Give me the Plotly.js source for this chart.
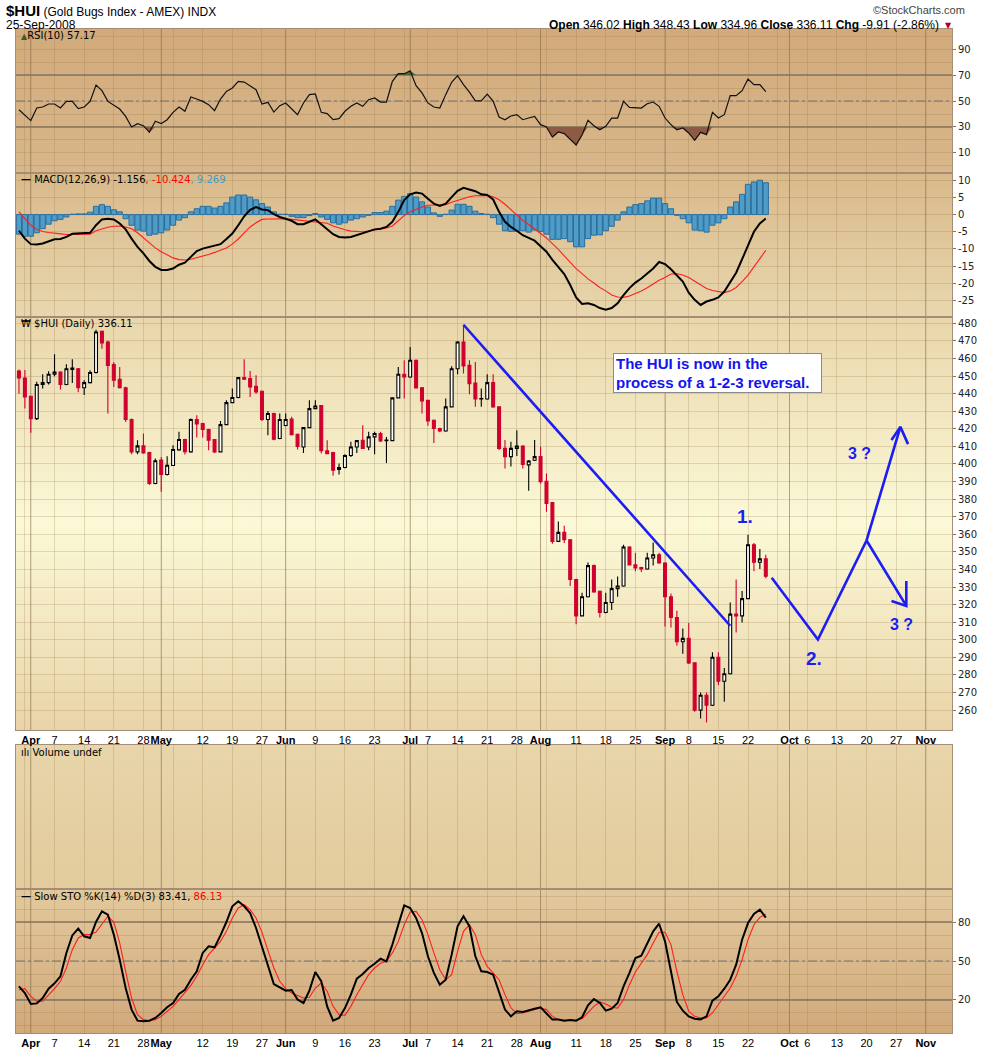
<!DOCTYPE html>
<html><head><meta charset="utf-8">
<script src="https://cdn.plot.ly/plotly-3.0.1.min.js"></script>
<style>body{margin:0;background:#fff}#chart{width:990px;height:1051px}</style>
</head><body><div id="chart"></div>
<script>
// ---------------- DATA ----------------
const dates = ['2008-03-28','2008-03-31',
'2008-04-01','2008-04-02','2008-04-03','2008-04-04','2008-04-07','2008-04-08','2008-04-09','2008-04-10','2008-04-11','2008-04-14','2008-04-15','2008-04-16','2008-04-17','2008-04-18','2008-04-21','2008-04-22','2008-04-23','2008-04-24','2008-04-25','2008-04-28','2008-04-29','2008-04-30',
'2008-05-01','2008-05-02','2008-05-05','2008-05-06','2008-05-07','2008-05-08','2008-05-09','2008-05-12','2008-05-13','2008-05-14','2008-05-15','2008-05-16','2008-05-19','2008-05-20','2008-05-21','2008-05-22','2008-05-23','2008-05-27','2008-05-28','2008-05-29','2008-05-30',
'2008-06-02','2008-06-03','2008-06-04','2008-06-05','2008-06-06','2008-06-09','2008-06-10','2008-06-11','2008-06-12','2008-06-13','2008-06-16','2008-06-17','2008-06-18','2008-06-19','2008-06-20','2008-06-23','2008-06-24','2008-06-25','2008-06-26','2008-06-27','2008-06-30',
'2008-07-01','2008-07-02','2008-07-03','2008-07-07','2008-07-08','2008-07-09','2008-07-10','2008-07-11','2008-07-14','2008-07-15','2008-07-16','2008-07-17','2008-07-18','2008-07-21','2008-07-22','2008-07-23','2008-07-24','2008-07-25','2008-07-28','2008-07-29','2008-07-30','2008-07-31',
'2008-08-01','2008-08-04','2008-08-05','2008-08-06','2008-08-07','2008-08-08','2008-08-11','2008-08-12','2008-08-13','2008-08-14','2008-08-15','2008-08-18','2008-08-19','2008-08-20','2008-08-21','2008-08-22','2008-08-25','2008-08-26','2008-08-27','2008-08-28','2008-08-29',
'2008-09-02','2008-09-03','2008-09-04','2008-09-05','2008-09-08','2008-09-09','2008-09-10','2008-09-11','2008-09-12','2008-09-15','2008-09-16','2008-09-17','2008-09-18','2008-09-19','2008-09-22','2008-09-23','2008-09-24','2008-09-25'];

const open = [452.9,448.9,438.5,425.8,445.2,446.3,451.0,452.3,445.2,453.8,454.2,443.4,446.3,452.0,475.5,469.4,456.5,448.2,443.4,425.3,406.9,410.3,406.5,388.9,402.2,394.0,399.1,408.0,413.9,406.9,425.3,423.0,419.6,413.9,406.9,422.4,434.9,437.8,449.1,448.6,444.2,441.4,425.3,428.7,414.5,421.9,425.5,416.9,409.7,420.7,431.5,433.2,407.5,406.5,396.9,398.0,404.8,409.7,413.5,409.7,415.4,417.3,413.3,413.3,437.6,451.0,449.5,459.0,443.4,436.2,424.9,420.2,418.8,432.5,454.2,469.4,456.1,446.1,437.0,437.0,446.3,432.5,408.9,404.2,408.9,410.2,399.5,402.1,404.2,390.2,378.0,356.0,361.1,356.9,334.3,313.6,324.5,342.2,327.6,315.5,321.2,329.1,330.6,352.8,342.6,341.1,340.3,346.5,348.4,343.7,324.5,312.7,298.9,300.8,286.9,260.0,268.5,262.8,290.1,276.4,280.7,314.6,313.6,323.4,354.1,344.1,346.02];
const high = [453.7,453.5,438.8,446.8,451.0,452.7,462.4,452.8,456.7,459.5,454.6,447.6,453.3,476.4,475.9,470.3,458.0,455.2,443.9,425.8,413.5,417.3,407.0,403.1,404.0,404.4,410.6,418.3,414.3,425.8,427.7,423.4,420.0,414.2,424.5,436.2,442.9,449.5,459.5,452.9,450.5,441.8,430.2,429.1,428.7,428.7,426.8,417.3,420.9,436.2,436.2,433.6,413.5,407.0,400.3,405.5,412.6,413.5,422.0,418.3,418.3,418.3,415.4,437.6,455.2,459.0,466.5,459.4,443.8,436.6,425.3,420.6,437.2,455.6,469.8,479.2,459.0,458.0,442.9,451.0,451.0,432.9,413.6,412.6,419.2,410.6,402.2,413.6,409.8,394.6,378.4,367.3,364.8,357.3,334.7,326.8,344.0,342.8,328.0,326.8,334.3,336.0,354.1,353.2,349.5,341.5,349.5,355.3,349.5,344.1,326.4,316.5,306.5,309.5,287.3,270.0,270.0,292.9,292.9,283.9,321.2,334.3,327.8,359.8,355.0,351.6,348.43];
const low = [440.0,431.5,417.7,425.0,442.9,445.2,449.9,442.3,444.8,446.0,440.8,439.3,445.8,451.5,465.6,428.7,443.8,442.9,423.9,405.6,405.6,405.8,388.0,388.5,384.2,393.5,398.8,407.5,405.4,406.4,415.0,415.0,407.8,406.3,406.5,422.0,434.5,437.4,447.8,438.1,440.0,424.5,416.4,413.5,414.0,421.5,416.2,408.2,406.3,420.3,431.1,405.9,405.5,393.3,394.0,397.6,404.0,406.3,408.5,407.8,405.6,412.5,400.6,413.0,437.2,437.2,449.0,443.0,428.7,421.7,412.0,418.0,418.4,432.1,451.0,451.4,439.7,432.5,432.5,436.6,432.0,407.9,397.5,398.5,404.5,397.5,384.8,401.7,388.9,372.9,354.7,355.6,355.0,330.6,308.9,313.2,324.1,326.8,312.7,315.1,317.0,324.5,330.2,342.2,339.0,338.6,339.9,342.2,343.3,307.6,307.0,296.6,292.0,286.3,259.1,255.3,253.0,262.4,274.1,264.7,280.3,304.2,309.9,323.0,339.0,340.3,334.96];
const close = [448.9,438.1,425.8,445.2,446.3,451.0,452.3,445.2,454.2,454.6,443.4,446.3,452.0,475.1,468.8,456.1,447.6,443.4,425.3,406.9,410.3,406.3,388.9,401.8,394.0,399.3,408.2,413.9,407.0,425.3,422.8,419.6,413.5,406.9,422.4,434.9,437.8,449.1,448.2,443.8,441.0,425.3,428.7,414.1,425.3,425.3,416.6,410.0,420.7,431.5,433.0,407.5,405.9,396.5,398.0,404.8,409.7,413.3,408.8,415.4,417.3,413.1,413.6,437.6,451.0,449.5,459.0,443.3,435.9,424.5,420.2,418.8,432.5,454.2,469.4,455.8,445.7,437.0,437.2,446.3,432.5,408.9,404.2,408.9,410.2,399.8,401.7,404.2,389.9,377.6,356.0,361.1,356.9,334.3,313.6,324.5,342.2,327.2,315.5,321.2,329.1,330.6,352.8,342.6,340.9,340.3,346.5,348.4,343.7,324.5,312.7,298.9,300.8,286.9,260.0,268.5,262.8,290.1,276.4,280.7,314.6,313.6,323.4,354.1,344.1,346.02,336.11];

const rsi = [43.3,38.7,34.9,44.6,45.4,47.7,47.7,44.6,49.7,49.7,44.1,45.4,49.7,
62.3,58.0,49.7,46.4,43.8,38.2,30.0,32.6,31.0,25.9,
34.4,32.6,35.6,41.3,45.4,42.1,53.1,51.5,49.7,47.2,
42.6,51.5,57.4,60.0,65.1,64.6,61.8,58.7,47.7,49.0,
41.5,46.4,48.5,43.8,39.5,48.5,54.9,55.4,41.3,40.3,
35.6,36.4,42.1,45.9,48.5,45.9,51.0,52.3,49.2,49.2,
65.1,71.0,71.0,73.3,61.8,56.2,48.5,45.4,44.6,54.9,64.4,
69.5,62.6,56.8,50.1,50.1,55.3,50.0,
37.7,35.6,38.5,39.5,35.6,36.9,38.2,31.8,30.0,22.3,26.2,24.9,
20.3,16.2,23.8,35.1,31.0,27.9,30.5,36.9,36.9,49.7,
45.1,44.6,44.6,47.9,49.2,45.9,36.9,31.8,27.9,29.2,
25.4,19.7,25.9,24.1,41.3,36.9,39.5,54.1,54.1,57.9,
66.9,62.6,62.6,57.17];

const macd = [-4.7,-7.0,-8.6,-8.7,-8.4,-7.9,-7.2,-7.1,-6.5,-5.6,-5.5,-5.6,-5.3,
-3.1,-1.4,-1.2,-1.4,-2.6,-4.3,-7.0,-9.4,-11.3,-13.5,
-15.2,-16.1,-16.1,-15.7,-14.6,-14.0,-12.3,-10.6,-9.9,-9.4,
-8.9,-8.6,-7.1,-5.5,-3.1,-0.5,1.4,2.2,1.5,1.3,
0.1,-0.7,-1.2,-1.8,-2.8,-2.8,-2.1,-1.4,-2.8,-4.3,
-5.7,-6.5,-6.7,-6.5,-6.0,-5.5,-5.0,-4.3,-4.1,-3.6,
-2.1,0.8,4.2,5.9,6.4,6.1,4.6,3.2,2.5,3.2,5.1,
6.9,7.8,7.4,6.8,5.9,5.7,4.4,
0.8,-2.1,-3.6,-4.7,-6.0,-6.8,-7.6,-9.2,-10.8,-13.2,-15.4,-17.3,
-20.5,-24.1,-26.0,-25.8,-26.3,-27.2,-27.7,-27.2,-25.8,-23.4,
-21.4,-19.8,-18.6,-17.1,-15.7,-13.8,-14.4,-15.9,-17.6,-19.5,
-22.7,-24.8,-26.3,-25.3,-24.8,-24.1,-22.4,-19.8,-16.9,-13.0,
-8.9,-5.0,-2.6,-1.156];

const macdSignal = [0.8,-1.2,-3.1,-4.3,-4.9,-5.2,-5.5,-5.6,-5.8,-5.8,-5.8,-5.8,-5.7,
-4.7,-4.1,-3.7,-3.4,-3.3,-3.6,-4.1,-5.3,-6.7,-8.2,
-9.7,-10.8,-11.8,-12.6,-13.1,-13.2,-13.0,-12.6,-12.1,-11.6,
-11.0,-10.3,-9.7,-8.6,-7.1,-5.3,-3.6,-2.4,-1.4,-1.3,
-1.2,-1.2,-1.2,-1.4,-1.6,-1.8,-1.9,-2.0,-2.2,-2.5,
-3.3,-3.9,-4.4,-4.8,-5.0,-5.0,-4.8,-4.4,-4.2,-3.9,
-3.3,-1.8,-0.3,0.8,1.6,2.2,2.7,2.7,2.7,2.9,3.6,
4.2,4.8,5.2,5.5,5.6,5.6,5.2,
4.3,3.0,1.4,-0.3,-1.7,-2.9,-4.1,-5.5,-6.8,-8.4,-10.1,-12.0,
-13.9,-15.7,-17.2,-18.7,-19.9,-21.2,-22.2,-23.4,-24.0,-24.1,
-23.7,-23.0,-22.2,-21.3,-20.2,-19.1,-18.3,-17.3,-17.2,-17.6,
-18.3,-19.3,-20.5,-21.5,-22.1,-22.5,-22.7,-22.2,-21.2,-19.5,
-17.6,-15.2,-12.8,-10.424];

const macdHist = [-5.7,-6.3,-6.3,-5.3,-4.1,-2.8,-1.8,-1.4,-0.7,0.1,0.2,0.2,0.7,
2.4,2.9,2.4,1.4,0.8,-1.2,-3.1,-4.5,-4.8,-6.0,
-5.7,-5.3,-4.5,-3.1,-1.6,-0.9,0.8,1.7,2.4,2.4,
1.9,2.4,3.4,5.1,5.7,5.7,5.1,4.3,3.2,2.2,
0.8,0.1,0.1,-0.5,-0.9,-0.9,-0.3,0.3,-0.7,-1.4,
-2.4,-2.8,-2.4,-1.6,-1.2,-0.7,-0.2,0.6,0.6,1.0,
2.4,4.2,5.3,6.1,5.1,3.7,2.2,0.5,-0.5,0.1,1.3,
3.0,3.0,2.4,1.0,0.3,0.1,-0.9,
-2.8,-4.7,-4.9,-4.9,-4.7,-5.1,-4.5,-4.9,-5.7,-7.2,-7.2,-7.0,
-7.9,-9.4,-9.4,-7.0,-6.0,-5.9,-4.7,-3.4,-1.6,0.8,
2.2,2.9,3.2,4.0,4.8,4.8,3.2,1.7,-0.2,-1.2,
-2.4,-4.5,-4.7,-5.1,-3.1,-2.4,-1.2,2.2,3.7,5.9,
8.8,9.5,10.0,9.269];

const stoK = [30.5,25.4,16.9,17.4,21.5,28.7,32.8,38.2,56.2,69.7,74.9,69.0,67.7,
80.0,88.2,85.6,70.3,51.0,29.2,12.6,4.1,3.6,4.1,
6.2,10.0,14.4,17.7,24.6,27.9,35.6,42.1,56.2,61.3,
60.5,69.7,80.0,92.1,95.9,92.1,86.9,75.4,61.0,48.5,
32.3,29.7,27.2,27.7,20.3,17.7,27.2,41.5,34.4,15.1,
4.1,6.2,13.8,24.1,36.4,40.0,44.6,47.9,51.8,49.7,
62.6,77.9,92.8,90.8,83.1,71.5,53.6,40.8,31.8,35.6,54.9,
76.7,84.4,76.7,53.6,42.1,41.5,39.5,26.7,12.6,
7.4,11.3,10.8,11.8,13.3,14.4,10.0,4.9,4.9,4.1,
4.6,4.1,6.7,15.9,20.8,17.7,11.8,13.3,17.7,30.5,
40.8,52.3,54.1,63.1,72.8,78.7,65.1,42.1,18.5,11.8,
7.4,5.6,5.1,7.4,19.5,22.8,28.7,35.6,47.2,66.4,
79.2,86.2,89.5,83.41];

const stoD = [27.9,28.7,22.8,19.0,19.0,23.6,28.7,34.4,44.6,58.7,67.7,70.3,70.3,
72.3,77.9,84.4,80.0,63.8,42.1,21.5,8.7,4.9,4.1,
4.9,7.4,11.3,15.1,20.3,25.4,31.3,38.2,47.2,54.9,
60.0,65.1,72.8,83.1,90.8,93.3,89.5,83.1,72.0,58.0,
44.6,34.4,28.7,25.4,23.3,21.5,22.1,29.2,33.1,26.7,
15.1,8.7,8.2,15.1,24.1,32.3,39.5,44.6,48.2,49.7,
56.2,65.1,77.9,87.7,88.2,81.8,70.3,56.2,43.3,35.6,39.5,
57.4,72.8,77.9,70.3,54.9,45.9,40.8,35.6,24.1,
14.0,9.5,10.0,11.3,12.6,13.8,12.6,7.4,4.9,4.4,
4.6,4.6,5.6,10.0,15.1,18.5,16.9,14.4,13.8,20.3,
31.8,41.5,48.5,54.9,63.8,72.1,72.1,62.6,42.1,24.1,
11.3,7.4,6.2,6.2,10.0,16.4,22.8,29.2,38.2,51.0,
66.4,77.9,83.6,86.13];

// x-axis labels and grid weeks
const labelDates = ['2008-04-01','2008-04-07','2008-04-14','2008-04-21','2008-04-28','2008-05-01','2008-05-12','2008-05-19','2008-05-27','2008-06-02','2008-06-09','2008-06-16','2008-06-23','2008-07-01','2008-07-07','2008-07-14','2008-07-21','2008-07-28','2008-08-01','2008-08-11','2008-08-18','2008-08-25','2008-09-02','2008-09-08','2008-09-15','2008-09-22','2008-10-01','2008-10-06','2008-10-13','2008-10-20','2008-10-27','2008-11-03'];
const labelText = ['Apr','7','14','21','28','May','12','19','27','Jun','9','16','23','Jul','7','14','21','28','Aug','11','18','25','Sep','8','15','22','Oct','6','13','20','27','Nov'];
const weekStarts = ['2008-03-31','2008-04-07','2008-04-14','2008-04-21','2008-04-28','2008-05-05','2008-05-12','2008-05-19','2008-05-27','2008-06-02','2008-06-09','2008-06-16','2008-06-23','2008-06-30','2008-07-07','2008-07-14','2008-07-21','2008-07-28','2008-08-04','2008-08-11','2008-08-18','2008-08-25','2008-09-02','2008-09-08','2008-09-15','2008-09-22','2008-09-29','2008-10-06','2008-10-13','2008-10-20','2008-10-27','2008-11-03'];
const monthStarts = ['2008-04-01','2008-05-01','2008-06-02','2008-07-01','2008-08-01','2008-09-02','2008-10-01','2008-11-03'];
const monthNames = ['Apr','May','Jun','Jul','Aug','Sep','Oct','Nov'];
const holidays = ['2008-05-26','2008-07-04','2008-09-01'];

// y tick labels
const rsiTicks = [10,30,50,70,90];
const macdTicks = [10,5,0,-5,-10,-15,-20,-25];
const priceTicks = [260,270,280,290,300,310,320,330,340,350,360,370,380,390,400,410,420,430,440,450,460,470,480];
const stoTicks = [20,50,80];
const rsiBands = [30,70], rsiMid = 50;
const stoBands = [20,80], stoMid = 50;

// hand-drawn annotation lines (date, price)
const trendDates = ['2008-07-15','2008-09-17'];
const trendValues = [479.2,308.0];
const pathDates = ['2008-09-26','2008-10-07 19:00','2008-10-20','2008-10-27 17:00'];
const pathValues = [335.3,300.1,356.5,421.1];
const upHeadDates = ['2008-10-24 05:00','2008-10-27 17:00','2008-10-29'];
const upHeadValues = [413.6,421.1,411.3];
const downDates = ['2008-10-20','2008-10-28 17:00'];
const downValues = [356.5,319.3];
const downHeadDates = ['2008-10-24 05:00','2008-10-28 17:00','2008-10-28 17:00'];
const downHeadValues = [322.1,319.3,333.4];
const noteDates = ['2008-09-19 12:00','2008-10-07 05:00','2008-10-16 19:00','2008-10-27 22:00'];
const noteValues = [370.1,289.2,406.2,308.6];
const noteText = ['1.','2.','3 ?','3 ?'];

const quote = {open:'346.02', high:'348.43', low:'334.96', close:'336.11', chg:'-9.91 (-2.86%)'};
const legendVals = {rsi:'57.17', macd:['-1.156','-10.424','9.269'], price:'336.11', sto:['83.41','86.13']};

// ---------------- LAYOUT HELPERS ----------------
const W = 990, H = 1051, ML = 16, MR = 38, MT = 29, MB = 18;
const PW = W - ML - MR, PH = H - MT - MB;
const py = p => (H - MB - p) / PH;      // pixel y -> paper
const px = p => (p - ML) / PW;          // pixel x -> paper
const P = { rsi:[29,173], macd:[173,317], price:[317,730], vol:[745,889], sto:[889,1033] };
const dom = k => [py(P[k][1]), py(P[k][0])];

const NARROW = 'Liberation Sans Narrow, Arial Narrow, Liberation Sans, sans-serif';
const VERD = 'DejaVu Sans, Verdana, sans-serif';
const gridC = 'rgba(140,110,60,0.22)';
const monthC = 'rgba(120,95,70,0.45)';
const borderC = '#a48c76';

const tickSet = Array.from(new Set(weekStarts.concat(monthStarts))).sort();
const tickTxt = tickSet.map(d => {
  const i = labelDates.indexOf(d);
  if (i < 0) return '';
  const t = labelText[i];
  return monthNames.includes(t) ? '<b>' + t + '</b>' : t;
});

const rangebreaks = [{bounds:['sat','mon']}, {values: holidays}];
const X_RANGE = ['2008-03-27 12:00','2008-11-07 10:00'];

function xax(anchor, labels, extra) {
  return Object.assign({
    type:'date', range:X_RANGE, rangebreaks, anchor,
    tickmode:'array', tickvals:tickSet, ticktext:tickTxt, tickangle:0,
    showticklabels:labels, showgrid:true, gridcolor:gridC, gridwidth:1,
    showline:true, mirror:true, linecolor:borderC, linewidth:1,
    ticks:'', zeroline:false, fixedrange:true, rangeslider:{visible:false},
    tickfont:{family:NARROW, size:11, color:'#000'}
  }, extra || {});
}
function yax(anchor, domain, range, extra) {
  return Object.assign({
    anchor, domain, range, side:'right', showline:true, mirror:true,
    linecolor:borderC, linewidth:1, zeroline:false, fixedrange:true,
    ticks:'outside', ticklen:3, tickcolor:'#777',
    tickfont:{family:VERD, size:10, color:'#222'},
    showgrid:true, gridcolor:gridC
  }, extra || {});
}

function grad(stops) {
  const s = stops.map(([o,c]) => `<stop offset="${o}" stop-color="${c}"/>`).join('');
  const svg = `<svg xmlns="http://www.w3.org/2000/svg" width="10" height="100" viewBox="0 0 10 100" preserveAspectRatio="none"><defs><linearGradient id="g" x1="0" y1="0" x2="0" y2="1">${s}</linearGradient></defs><rect width="10" height="100" fill="url(#g)"/></svg>`;
  return 'data:image/svg+xml;base64,' + btoa(svg);
}
const bgStops = {
  rsi:[[0,'#d2aa7b'],[1,'#d8b78a']],
  macd:[[0,'#d9b98a'],[1,'#e8d7ae']],
  price:[[0,'#e9d6ab'],[0.5,'#fbf9d7'],[1,'#e9d4a8']],
  vol:[[0,'#e8d5aa'],[1,'#e2cb9c']],
  sto:[[0,'#e2c99d'],[1,'#d1a97b']]
};
const images = Object.keys(P).map(k => {
  const d = dom(k);
  return {source:grad(bgStops[k]), xref:'paper', yref:'paper', x:0, y:d[1], sizex:1, sizey:d[1]-d[0],
          sizing:'stretch', xanchor:'left', yanchor:'top', layer:'below'};
});

// ---------------- TRACES ----------------
const base30 = dates.map(() => rsiBands[0]);
const base70 = dates.map(() => rsiBands[1]);
const blue = {color:'#1c1cf5', width:2.6};
const traces = [
  {x:dates, y:base30, xaxis:'x5', yaxis:'y5', type:'scatter', mode:'lines', line:{width:0, color:'rgba(0,0,0,0)'}},
  {x:dates, y:rsi.map(v => Math.min(v, rsiBands[0])), xaxis:'x5', yaxis:'y5', type:'scatter', mode:'lines', line:{width:0, color:'rgba(0,0,0,0)'}, fill:'tonexty', fillcolor:'#8e5a44'},
  {x:dates, y:base70, xaxis:'x5', yaxis:'y5', type:'scatter', mode:'lines', line:{width:0, color:'rgba(0,0,0,0)'}},
  {x:dates, y:rsi.map(v => Math.max(v, rsiBands[1])), xaxis:'x5', yaxis:'y5', type:'scatter', mode:'lines', line:{width:0, color:'rgba(0,0,0,0)'}, fill:'tonexty', fillcolor:'#4c6535'},
  {x:dates, y:rsi, xaxis:'x5', yaxis:'y5', type:'scatter', mode:'lines', line:{color:'#111', width:1.2}},

  {x:dates, y:macdHist, xaxis:'x4', yaxis:'y4', type:'bar', marker:{color:'#4e9cc8', line:{color:'#2c6d9c', width:1}}},
  {x:dates, y:macdSignal, xaxis:'x4', yaxis:'y4', type:'scatter', mode:'lines', line:{color:'#ff1e1e', width:1.1}},
  {x:dates, y:macd, xaxis:'x4', yaxis:'y4', type:'scatter', mode:'lines', line:{color:'#000', width:2}},

  {x:dates, open, high, low, close, xaxis:'x3', yaxis:'y3', type:'candlestick', whiskerwidth:0,
   increasing:{line:{color:'#000', width:1.1}, fillcolor:'#ffffff'},
   decreasing:{line:{color:'#d0002f', width:1.1}, fillcolor:'#d0002f'}},
  {x:trendDates, y:trendValues, xaxis:'x3', yaxis:'y3', type:'scatter', mode:'lines', line:blue},
  {x:pathDates, y:pathValues, xaxis:'x3', yaxis:'y3', type:'scatter', mode:'lines', line:blue},
  {x:upHeadDates, y:upHeadValues, xaxis:'x3', yaxis:'y3', type:'scatter', mode:'lines', line:blue},
  {x:downDates, y:downValues, xaxis:'x3', yaxis:'y3', type:'scatter', mode:'lines', line:blue},
  {x:downHeadDates, y:downHeadValues, xaxis:'x3', yaxis:'y3', type:'scatter', mode:'lines', line:blue},

  {x:[dates[0]], y:[null], xaxis:'x2', yaxis:'y2', type:'scatter', mode:'lines'},

  {x:dates, y:stoD, xaxis:'x', yaxis:'y', type:'scatter', mode:'lines', line:{color:'#ff1e1e', width:1.1}},
  {x:dates, y:stoK, xaxis:'x', yaxis:'y', type:'scatter', mode:'lines', line:{color:'#000', width:2}}
];

// ---------------- SHAPES ----------------
const shapes = [];
const panels = [['x','y'],['x2','y2'],['x3','y3'],['x4','y4'],['x5','y5']];
panels.forEach(([xa, ya]) => monthStarts.forEach(d => shapes.push({
  type:'line', xref:xa, yref:ya + ' domain', x0:d, x1:d, y0:0, y1:1, layer:'below',
  line:{color:monthC, width:1}
})));
function hline(xa, ya, v, dash) {
  shapes.push({type:'line', xref:xa + ' domain', yref:ya, x0:0, x1:1, y0:v, y1:v, layer:'below',
    line:{color:dash ? '#77736c' : '#827565', width:dash ? 1 : 1.4, dash:dash ? 'dashdot' : 'solid'}});
}
rsiBands.forEach(v => hline('x5','y5',v,false)); hline('x5','y5',rsiMid,true);
stoBands.forEach(v => hline('x','y',v,false)); hline('x','y',stoMid,true);

// ---------------- ANNOTATIONS ----------------
const A = (x, y, text, opt) => Object.assign({xref:'paper', yref:'paper', x:px(x), y:py(y), text, showarrow:false,
  xanchor:'left', yanchor:'middle', font:{family:VERD, size:10, color:'#000'}}, opt || {});
const annotations = [
  A(4, 10, '<span style="font-size:15px"><b>$HUI</b></span> (Gold Bugs Index - AMEX) INDX', {font:{family:NARROW, size:12, color:'#000'}}),
  A(4, 25, '25-Sep-2008', {font:{family:NARROW, size:12, color:'#000'}}),
  A(941, 25, `<b>Open</b> ${quote.open} <b>High</b> ${quote.high} <b>Low</b> ${quote.low} <b>Close</b> ${quote.close} <b>Chg</b> ${quote.chg}`,
    {xanchor:'right', font:{family:NARROW, size:12, color:'#000'}}),
  A(943, 25, '▼', {font:{family:VERD, size:8, color:'#b0002a'}}),
  A(967, 10, '©StockCharts.com', {xanchor:'right', font:{family:NARROW, size:11, color:'#444'}}),

  A(19, 36, `<span style="color:#3d5a2a;font-size:8px">▲</span>RSI(10) ${legendVals.rsi}`),
  A(19, 180, `<b>—</b> MACD(12,26,9) ${legendVals.macd[0]}<span style="color:#ff0000">, ${legendVals.macd[1]}</span><span style="color:#3d9bd0">, ${legendVals.macd[2]}</span>`),
  A(19, 324, `₩ $HUI (Daily) ${legendVals.price}`),
  A(19, 752, 'ılı Volume undef'),
  A(19, 896, `<b>—</b> Slow STO %K(14) %D(3) ${legendVals.sto[0]}, <span style="color:#ff0000">${legendVals.sto[1]}</span>`),

  {xref:'paper', yref:'paper', x:px(613), y:py(353), xanchor:'left', yanchor:'top', showarrow:false,
   text:'<b>The HUI is now in the<br>process of a 1-2-3 reversal.</b>', align:'left',
   width:203, height:34, valign:'middle',
   bgcolor:'#ffffff', bordercolor:'#8a8a8a', borderwidth:1, borderpad:2,
   font:{family:'Liberation Sans, Arial, sans-serif', size:15, color:'#1414f0'}}
];
noteText.forEach((t, i) => annotations.push({xref:'x3', yref:'y3', x:noteDates[i], y:noteValues[i], text:'<b>' + t + '</b>',
  showarrow:false, font:{family:'Liberation Sans, Arial, sans-serif', size:i < 2 ? 19 : 16, color:'#1c1cf5'}}));

const layout = {
  width:W, height:H, margin:{l:ML, r:MR, t:MT, b:MB, pad:0},
  paper_bgcolor:'#ffffff', plot_bgcolor:'rgba(0,0,0,0)',
  showlegend:false, hovermode:false, bargap:0.12,
  xaxis: xax('y', true),
  xaxis2: xax('y2', false, {matches:'x'}),
  xaxis3: xax('y3', true, {matches:'x'}),
  xaxis4: xax('y4', false, {matches:'x'}),
  xaxis5: xax('y5', false, {matches:'x'}),
  yaxis: yax('x', dom('sto'), [-5.4,105.4], {tickmode:'array', tickvals:stoTicks, showgrid:false,
          minor:{dtick:10, tick0:0, showgrid:true, gridcolor:gridC, ticks:''}}),
  yaxis2: yax('x2', dom('vol'), [0,1], {showticklabels:false, showgrid:false, ticks:''}),
  yaxis3: yax('x3', dom('price'), [248.7,483.6], {tickmode:'array', tickvals:priceTicks}),
  yaxis4: yax('x4', dom('macd'), [-29.8,12.1], {tickmode:'array', tickvals:macdTicks, ticktext:macdTicks.map(String)}),
  yaxis5: yax('x5', dom('rsi'), [-5.4,105.4], {tickmode:'array', tickvals:rsiTicks, showgrid:false,
          minor:{dtick:10, tick0:0, showgrid:true, gridcolor:gridC, ticks:''}}),
  images, shapes, annotations
};

Plotly.newPlot('chart', traces, layout, {staticPlot:true, displayModeBar:false});
</script>
</body></html>
